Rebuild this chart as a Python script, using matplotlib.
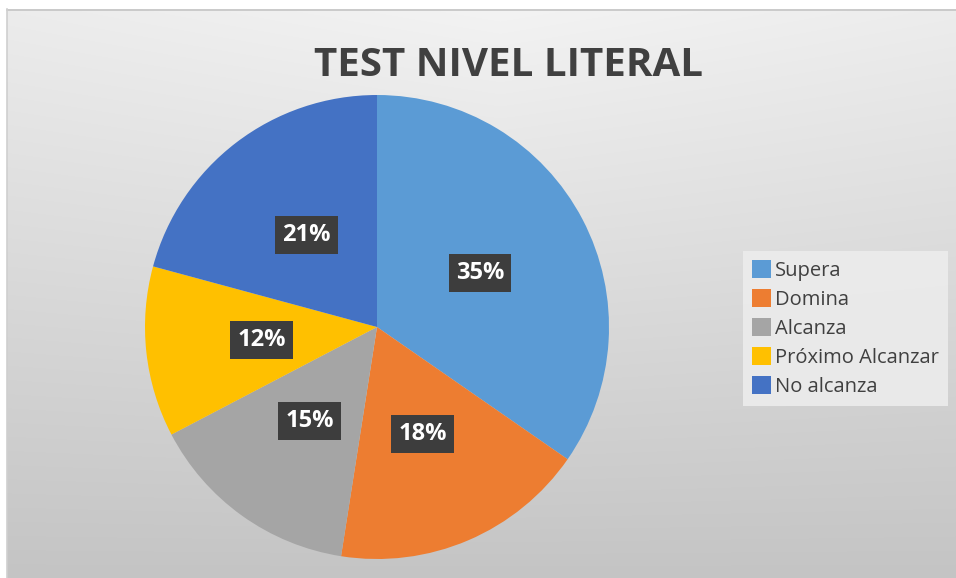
import numpy as np
import matplotlib.pyplot as plt
from matplotlib.patches import Patch

# datos del grafico
categorias = ["Supera", "Domina", "Alcanza", "Próximo Alcanzar", "No alcanza"]
porcentajes = [35, 18, 15, 12, 21]
colores = ["#5B9BD5", "#ED7D31", "#A5A5A5", "#FFC000", "#4472C4"]
titulo = "TEST NIVEL LITERAL"

W, H = 956, 578
fig = plt.figure(figsize=(W / 100, H / 100), dpi=100)
fig.patch.set_facecolor("white")

# fondo con degradado (zona del grafico empieza en x=7, y=9)
bg = fig.add_axes([0, 0, 1, 1], zorder=0)
yy, xx = np.mgrid[0:H, 0:W].astype(float)
t = (yy - 9) / (H - 9)
c = 243 - 47 * t - 7 * (np.abs(xx - 500) / 500) * (1 - t)
c = c / 255.0
img = np.dstack([c, c, c])
img[:9, :, :] = 1.0
img[:, :7, :] = 1.0
bg.imshow(img, extent=(0, W, H, 0), aspect="auto", interpolation="bilinear")
bg.plot([7, W], [9.5, 9.5], color="#c4c4c4", lw=1.2)
bg.plot([7.5, 7.5], [9, H], color="#cfcfcf", lw=1.2)
bg.set_xlim(0, W)
bg.set_ylim(H, 0)
bg.axis("off")

# titulo
fig.text(508 / W, 1 - 66 / H, titulo, ha="center", va="center",
         fontsize=29, fontweight="bold", family="Open Sans", color="#404040", zorder=5)

# pastel
cx, cy, r = 377, 327, 232
ax = fig.add_axes([(cx - r) / W, (H - cy - r) / H, 2 * r / W, 2 * r / H], zorder=2)
wedges, textos, autotextos = ax.pie(
    porcentajes, colors=colores, startangle=90, counterclock=False,
    radius=1, autopct="%.0f%%", pctdistance=0.5,
    wedgeprops=dict(linewidth=0),
    textprops=dict(color="white", fontsize=17, fontweight="bold", family="Open Sans"))
for tx in autotextos:
    tx.set_bbox(dict(boxstyle="square,pad=0.3", facecolor="#3d3d3d", edgecolor="none"))
ax.set_xlim(-1, 1)
ax.set_ylim(-1, 1)
ax.set_aspect("equal")
ax.axis("off")

# leyenda
handles = [Patch(facecolor=col, edgecolor="none") for col in colores]
leg = fig.legend(handles, categorias, loc="upper left",
                 bbox_to_anchor=(743 / W, 1 - 251 / H),
                 prop=dict(family="Open Sans", size=14.5),
                 handlelength=0.95, handleheight=1.0, handletextpad=0.2,
                 labelspacing=0.4, borderpad=0.45, borderaxespad=0,
                 frameon=True, fancybox=False, labelcolor="#404040")
leg.get_frame().set_facecolor("#ececec")
leg.get_frame().set_edgecolor("none")
leg.get_frame().set_alpha(0.9)
leg.set_zorder(5)

fig.savefig("out.png", dpi=100)
